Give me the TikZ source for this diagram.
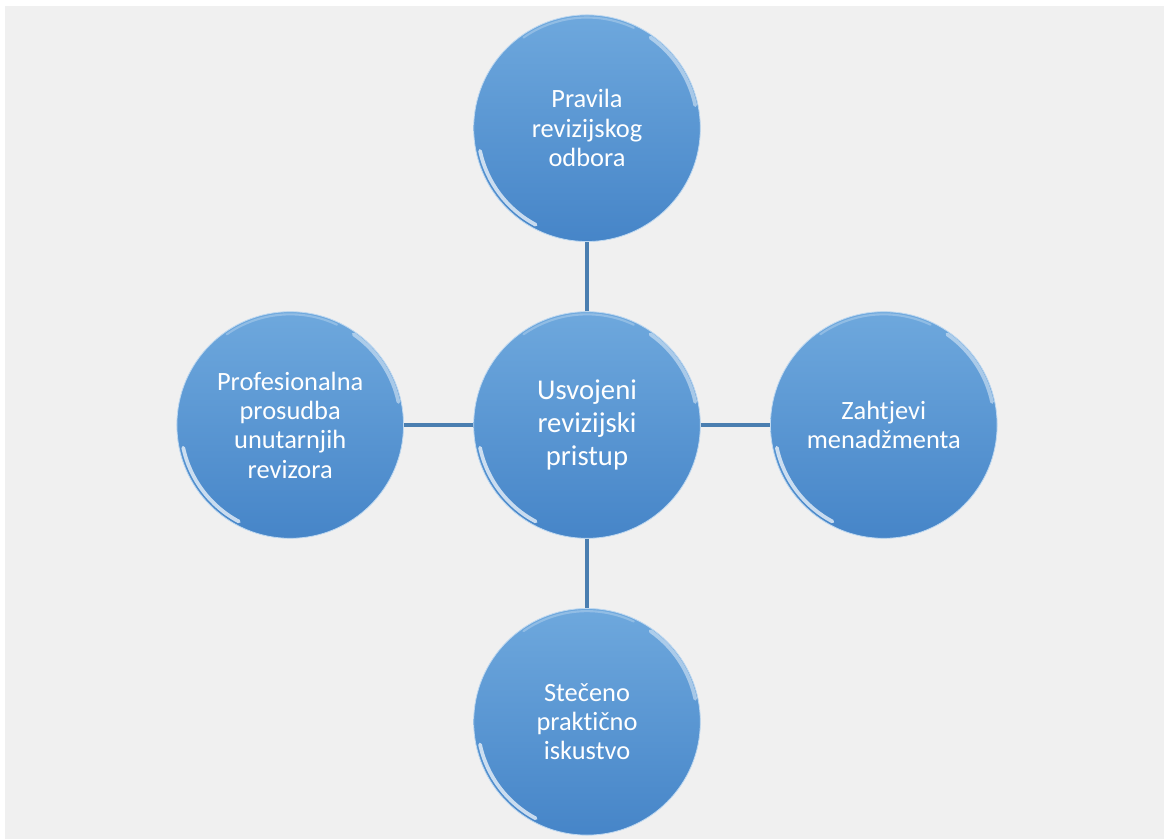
\documentclass[tikz,border=0pt]{standalone}
\usepackage{fontspec}
\setmainfont{Carlito}[Ligatures=NoCommon]
\usetikzlibrary{positioning}
\definecolor{pagegray}{HTML}{F0F0F0}
\definecolor{bubbletop}{HTML}{6EA8DD}
\definecolor{bubblebot}{HTML}{4685C8}
\definecolor{spokeblue}{HTML}{4A7EB0}
\tikzset{
 bubble/.style={circle,minimum size=170pt,inner sep=0pt,align=center,text=white,
  font=\fontsize{19.8}{22}\selectfont,top color=bubbletop,bottom color=bubblebot,
  draw=white!55!bubbletop,line width=0.6pt},
 hub/.style={bubble,font=\fontsize{21.5}{25}\selectfont},
 spoke/.style={draw=spokeblue,line width=2.6pt},
 gloss/.style={white,line width=2.8pt,opacity=0.7,line cap=round},
}
\begin{document}
\begin{tikzpicture}[x=0.75pt,y=0.75pt,node distance=52pt]
 \useasboundingbox (0,0) rectangle (1164,839);
 \fill[white] (0,0) rectangle (1164,839);
 \fill[pagegray] (5,0) rectangle (1164,833);
 % central node and its four neighbours
 \node[hub] (pristup) at (587,414) {Usvojeni\\revizijski\\pristup};
 \node[bubble,above=of pristup] (odbor) {Pravila\\revizijskog\\odbora};
 \node[bubble,below=of pristup] (iskustvo) {Stečeno\\praktično\\iskustvo};
 \node[bubble,left=of pristup] (prosudba) {Profesionalna\\prosudba\\unutarnjih\\revizora};
 \node[bubble,right=of pristup] (menadzment) {Zahtjevi\\menadžmenta};
 % spokes
 \draw[spoke] (pristup) -- (odbor);
 \draw[spoke] (pristup) -- (iskustvo);
 \draw[spoke] (pristup) -- (prosudba);
 \draw[spoke] (pristup) -- (menadzment);
 % glossy rim highlights
 \foreach \n in {pristup,odbor,iskustvo,prosudba,menadzment}{
  \draw[gloss] ([shift={(192:82pt)}]\n.center) arc[start angle=192,end angle=242,radius=82pt];
  \draw[gloss,opacity=0.45] ([shift={(12:83pt)}]\n.center) arc[start angle=12,end angle=55,radius=83pt];
  \draw[gloss,opacity=0.25,line width=1.6pt] ([shift={(65:83pt)}]\n.center) arc[start angle=65,end angle=125,radius=83pt];
 }
\end{tikzpicture}
\end{document}
